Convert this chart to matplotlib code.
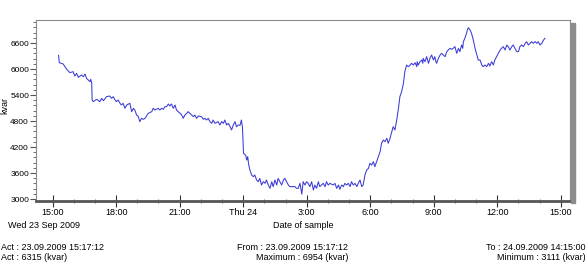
import datetime

import matplotlib
matplotlib.use("Agg")
import matplotlib.pyplot as plt
import matplotlib.dates as mdates
from matplotlib.patches import Rectangle
from matplotlib.ticker import MultipleLocator, FuncFormatter

# minutes after Wed 23 Sep 2009 15:00 and reactive power in kvar
minutes = [
    17, 19, 30, 40, 49, 58, 63, 68, 73, 82, 87, 92, 96, 101, 106, 108, 111, 112, 115, 125,
    134, 139, 144, 153, 162, 167, 172, 177, 181, 186, 191, 195, 200, 205, 210, 219, 224, 229,
    233, 238, 243, 247, 252, 257,
    262, 271, 281, 285, 290, 299, 304, 309, 314, 318, 323, 328, 332, 337, 342, 347, 351, 356,
    361, 366, 370, 375, 380, 384, 389, 394, 399, 403, 408, 413, 422, 427, 432, 436, 441, 446,
    451, 455, 460, 469, 474, 479, 484, 488, 493, 498, 503, 507, 512, 517, 521, 526, 531, 535,
    538, 541,
    547, 550, 553, 555, 559, 564, 569, 573, 578, 583, 587, 592, 597, 602, 606, 611, 616, 621,
    625, 630, 635, 639, 644, 649, 654, 658, 663, 668, 672, 677, 687, 691, 696, 701, 706, 710,
    715, 720, 724, 729, 734, 739, 743, 748, 753, 757, 762, 767, 772, 776, 781,
    786, 795, 800, 805, 810, 814, 819, 824, 828, 833, 838, 843, 847, 852, 857, 862, 866, 871,
    876, 880, 885, 890, 895, 899, 904, 909, 913, 918, 923, 928, 932, 937, 942, 947, 951, 956,
    961, 965, 970, 975, 980, 984, 989, 994, 998, 1003, 1008,
    1013, 1017, 1022, 1027, 1032, 1033, 1036, 1041, 1046, 1049, 1050, 1055, 1060, 1065, 1069,
    1074, 1079, 1083, 1086, 1088, 1093, 1098, 1102, 1107, 1112, 1117, 1121, 1126, 1131, 1135,
    1140, 1145, 1150, 1154, 1159, 1162, 1164, 1168, 1173, 1175, 1178, 1183, 1187, 1192, 1197,
    1202, 1206, 1211, 1216, 1220, 1225, 1230, 1235, 1239, 1244, 1249, 1253, 1258, 1263, 1268,
    1272, 1277, 1282, 1287, 1291, 1296, 1301, 1305, 1310, 1315, 1320, 1324, 1329, 1334, 1339,
    1343, 1348, 1353, 1357, 1362, 1367, 1372, 1376, 1381, 1386, 1391, 1395,
]
kvar = [
    6315, 6147, 6116, 5993, 5916, 5939, 5839, 5900, 5808, 5862, 5823, 5885, 5785, 5747, 5708, 5762, 5670, 5285, 5247, 5300,
    5247, 5323, 5270, 5362, 5377, 5323, 5362, 5285, 5247, 5285, 5208, 5170, 5208, 5093, 5170, 5208, 5016, 5093,
    5054, 4939, 4900, 4785, 4862, 4839,
    4862, 4977, 5016, 5093, 5054, 5093, 5054, 5093, 5070, 5131, 5131, 5193, 5146, 5193, 5093, 5170, 5054, 5016,
    4977, 4939, 4862, 4939, 4977, 5016, 4977, 4939, 4900, 4939, 4862, 4916, 4900, 4839, 4862, 4823, 4862, 4785,
    4746, 4823, 4746, 4785, 4708, 4785, 4746, 4823, 4708, 4746, 4669, 4593, 4708, 4785, 4669, 4708, 4700, 4823,
    4650, 4054,
    4015, 3900, 3977, 3823, 3669, 3554, 3515, 3554, 3438, 3400, 3477, 3323, 3400, 3362, 3438, 3323, 3246, 3400,
    3285, 3438, 3323, 3477, 3400, 3323, 3438, 3477, 3400, 3323, 3285, 3285, 3285, 3246, 3246, 3362, 3111, 3400,
    3323, 3400, 3362, 3285, 3400, 3208, 3323, 3246, 3400, 3285, 3323, 3362, 3285, 3400, 3323,
    3361, 3323, 3361, 3246, 3323, 3223, 3323, 3285, 3361, 3323, 3361, 3285, 3400, 3323, 3361, 3285, 3361, 3438,
    3285, 3323, 3554, 3669, 3708, 3823, 3785, 3861, 3746, 3861, 3977, 4092, 4285, 4362, 4323, 4400, 4285, 4400,
    4554, 4669, 4592, 4823, 5092, 5362, 5477, 5669, 5939, 6092, 6054,
    6092, 6131, 6092, 6146, 6054, 6169, 6092, 6169, 6208, 6131, 6246, 6169, 6285, 6131, 6246,
    6323, 6208, 6285, 6169, 6131, 6246, 6323, 6362, 6323, 6285, 6400, 6439, 6477, 6454, 6477,
    6516, 6362, 6477, 6400, 6554, 6477, 6631, 6708, 6823, 6900, 6954, 6900, 6823, 6669, 6477,
    6323, 6208, 6208, 6092, 6054, 6092, 6054, 6131, 6069, 6169, 6092, 6208, 6285, 6362, 6439,
    6477, 6516, 6439, 6554, 6516, 6439, 6516, 6554, 6477, 6400, 6400, 6516, 6554, 6516, 6593,
    6631, 6554, 6593, 6631, 6593, 6631, 6593, 6631, 6554, 6593, 6669, 6708,
]

y_ticks = [3000, 3600, 4200, 4800, 5400, 6000, 6600]

start = datetime.datetime(2009, 9, 23, 15, 0)
times = [start + datetime.timedelta(minutes=m) for m in minutes]

plt.rcParams["font.family"] = ["Liberation Sans", "DejaVu Sans"]
plt.rcParams["font.size"] = 6.5

fig = plt.figure(figsize=(5.88, 2.63), dpi=100)
W, H = 588, 263
ax = fig.add_axes([36 / W, 1 - 201 / H, (570 - 36) / W, (201 - 20) / H])

ax.plot(times, kvar, color="#3a3ad6", lw=0.75)

ax.set_xlim(start - datetime.timedelta(minutes=47), start + datetime.timedelta(minutes=1466))
ax.set_ylim(2954, 7131)

ax.set_yticks(y_ticks)
ax.yaxis.set_minor_locator(MultipleLocator(120))
ax.tick_params(axis="y", which="major", direction="out", length=4, color="#555555",
               pad=1, labelsize=6)
ax.tick_params(axis="y", which="minor", direction="out", length=2.5, color="#555555")

ax.xaxis.set_major_locator(mdates.HourLocator(byhour=range(0, 24, 3)))
ax.xaxis.set_minor_locator(mdates.HourLocator())


def fmt_time(x, pos):
    d = mdates.num2date(x)
    if d.hour == 0:
        return d.strftime("%a %d")
    return f"{d.hour}:{d.minute:02d}"


ax.xaxis.set_major_formatter(FuncFormatter(fmt_time))
ax.tick_params(axis="x", which="major", direction="inout", length=8, color="#333333", pad=1)
ax.tick_params(axis="x", which="minor", direction="inout", length=3, color="#555555")

for side in ("left", "top", "right"):
    ax.spines[side].set_color("#8a8a8a")
    ax.spines[side].set_linewidth(0.8)
ax.spines["bottom"].set_color("#555555")
ax.spines["bottom"].set_linewidth(2)

# drop shadow on the right side of the frame
fig.patches.append(Rectangle((571 / W, 1 - 203 / H), 4 / W, (203 - 23) / H,
                             transform=fig.transFigure, color="#8c8c8c", zorder=0))

fig.text(5 / W, 1 - 105 / H, "kvar", rotation=90, ha="center", va="center")
fig.text(8 / W, 1 - 225 / H, "Wed 23 Sep 2009", ha="left", va="center")
fig.text(303 / W, 1 - 225 / H, "Date of sample", ha="center", va="center")

fig.text(1 / W, 1 - 247 / H, "Act : 23.09.2009 15:17:12", ha="left", va="center")
fig.text(1 / W, 1 - 257 / H, "Act : 6315 (kvar)", ha="left", va="center")
fig.text(348 / W, 1 - 247 / H, "From : 23.09.2009 15:17:12", ha="right", va="center")
fig.text(348 / W, 1 - 257 / H, "Maximum : 6954 (kvar)", ha="right", va="center")
fig.text(586 / W, 1 - 247 / H, "To : 24.09.2009 14:15:00", ha="right", va="center")
fig.text(586 / W, 1 - 257 / H, "Minimum : 3111 (kvar)", ha="right", va="center")

fig.savefig("out.png", dpi=100)
